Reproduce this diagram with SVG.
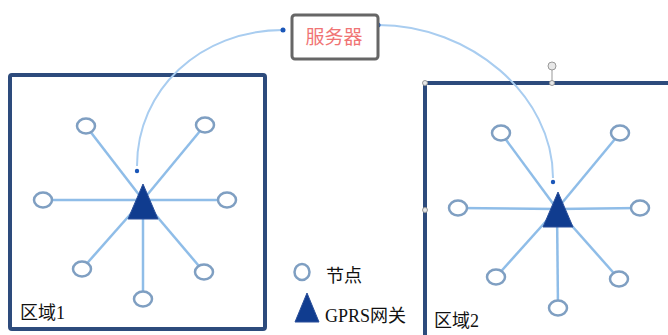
<svg xmlns="http://www.w3.org/2000/svg" width="668" height="335" viewBox="0 0 668 335">
<style>
.region{fill:#fff;stroke:#2d4b7c;stroke-width:4}
.spoke{stroke:#8fbde8;stroke-width:2.5}
.node{fill:#fff;stroke:#7f9fc2;stroke-width:2.5}
.gw{fill:#103c8f;stroke:#2a4f9a;stroke-width:1}
.link{fill:none;stroke:#a9cdf0;stroke-width:2}
.dot{fill:#1a56b8}
.lbl{font-family:"Liberation Serif","Noto Sans CJK SC",serif;font-size:18px;fill:#111}
.handle{fill:#e8e8e8;stroke:#999;stroke-width:1}
</style>
<g id="region1">
<rect class="region" x="10" y="75" width="255" height="254" rx="2"/>
<text class="lbl" x="20" y="319">区域1</text>
</g>
<g id="region2">
<rect class="region" x="425" y="83" width="260" height="270"/>
<text class="lbl" x="434" y="327">区域2</text>
<line x1="552" y1="70" x2="552" y2="83" stroke="#999" stroke-width="1"/>
<circle class="handle" cx="552" cy="66" r="4"/>
<circle class="handle" cx="425" cy="83" r="2.5"/>
<circle class="handle" cx="552" cy="83" r="2.5"/>
<circle class="handle" cx="425" cy="210" r="2.5"/>
</g>
<g id="connectors">
<path class="link" d="M137,166 C137,90 200,30 283,30"/>
<path class="link" d="M378,25 C470,25 553,95 553,178"/>
<circle class="dot" cx="137" cy="171" r="2.2"/>
<circle class="dot" cx="283" cy="30" r="2.5"/>
<circle class="dot" cx="378" cy="25" r="2.5"/>
<circle class="dot" cx="553" cy="182" r="2.2"/>
<g id="spokes1">
<line class="spoke" x1="143" y1="200" x2="86" y2="126"/>
<line class="spoke" x1="143" y1="200" x2="205" y2="125"/>
<line class="spoke" x1="143" y1="200" x2="43" y2="200"/>
<line class="spoke" x1="143" y1="200" x2="227" y2="200"/>
<line class="spoke" x1="143" y1="200" x2="82" y2="269"/>
<line class="spoke" x1="143" y1="200" x2="204" y2="272"/>
<line class="spoke" x1="143" y1="200" x2="143" y2="299"/>
</g>
<g id="spokes2">
<line class="spoke" x1="557" y1="209" x2="501" y2="133"/>
<line class="spoke" x1="557" y1="209" x2="620" y2="133"/>
<line class="spoke" x1="557" y1="209" x2="458" y2="208"/>
<line class="spoke" x1="557" y1="209" x2="640" y2="208"/>
<line class="spoke" x1="557" y1="209" x2="496" y2="277"/>
<line class="spoke" x1="557" y1="209" x2="619" y2="279"/>
<line class="spoke" x1="557" y1="209" x2="558" y2="308"/>
</g>
</g>
<g id="server">
<rect x="292" y="15" width="86" height="44" rx="3" fill="#fff" stroke="#666" stroke-width="3"/>
<text x="334" y="44" text-anchor="middle" font-family="'Liberation Serif','Noto Sans CJK SC',serif" font-size="19" fill="#f07474">服务器</text>
</g>
<g id="nodes1">
<ellipse class="node" cx="86" cy="126" rx="9" ry="7.5"/>
<ellipse class="node" cx="205" cy="125" rx="9" ry="7.5"/>
<ellipse class="node" cx="43" cy="200" rx="9" ry="7.5"/>
<ellipse class="node" cx="227" cy="200" rx="9" ry="7.5"/>
<ellipse class="node" cx="82" cy="269" rx="9" ry="7.5"/>
<ellipse class="node" cx="204" cy="272" rx="9" ry="7.5"/>
<ellipse class="node" cx="143" cy="299" rx="9" ry="7.5"/>
</g>
<g id="gateway1"><polygon class="gw" points="143,184 128,219 158,219"/></g>
<g id="nodes2">
<ellipse class="node" cx="501" cy="133" rx="9" ry="7.5"/>
<ellipse class="node" cx="620" cy="133" rx="9" ry="7.5"/>
<ellipse class="node" cx="458" cy="208" rx="9" ry="7.5"/>
<ellipse class="node" cx="640" cy="208" rx="9" ry="7.5"/>
<ellipse class="node" cx="496" cy="277" rx="9" ry="7.5"/>
<ellipse class="node" cx="619" cy="279" rx="9" ry="7.5"/>
<ellipse class="node" cx="558" cy="308" rx="9" ry="7.5"/>
</g>
<g id="gateway2"><polygon class="gw" points="558,192 543,227 573,227"/></g>
<g id="legend">
<ellipse class="node" cx="302" cy="272" rx="7.5" ry="8"/>
<text class="lbl" x="326" y="282">节点</text>
<polygon class="gw" points="307,293 295,322 319,322"/>
<text class="lbl" x="325" y="322" font-size="20">GPRS网关</text>
</g>
</svg>
